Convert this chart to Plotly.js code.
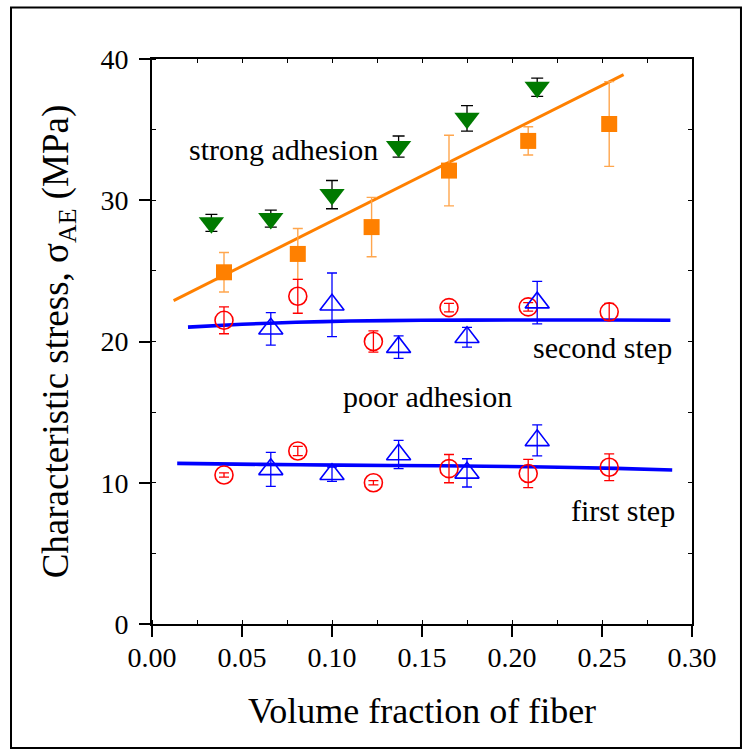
<!DOCTYPE html>
<html>
<head>
<meta charset="utf-8">
<script src="https://cdn.plot.ly/plotly-3.0.1.min.js"></script>
<style>
  body { margin: 0; }
  #chart .main-svg text, #chart .main-svg tspan { font-family: 'Liberation Serif' !important; }
</style>
</head>
<body>
<div id="chart" style="width:750px;height:755px"></div>
<script>
// Strong adhesion: filled green triangles and filled orange squares
const strongTriX = [0.033, 0.066, 0.100, 0.137, 0.175, 0.214];
const strongTriY = [28.4, 28.7, 30.4, 33.8, 35.8, 38.0];
const strongTriErr = [0.6, 0.6, 1.0, 0.75, 0.9, 0.65];

const strongSqX = [0.040, 0.081, 0.122, 0.165, 0.209, 0.254];
const strongSqY = [24.9, 26.2, 28.1, 32.1, 34.2, 35.4];
const strongSqErr = [1.4, 1.8, 2.1, 2.5, 1.0, 3.0];

// Linear trend for the strong adhesion squares
const strongFitX = [0.012, 0.262];
const strongFitY = [22.9, 38.9];

// Poor adhesion, second step
const secondCircX = [0.040, 0.081, 0.123, 0.165, 0.209, 0.254];
const secondCircY = [21.5, 23.2, 20.0, 22.4, 22.45, 22.1];
const secondCircErr = [0.95, 1.2, 0.75, 0.3, 0.3, 0.6];

const secondTriX = [0.066, 0.100, 0.137, 0.175, 0.214];
const secondTriY = [20.9, 22.6, 19.6, 20.3, 22.75];
const secondTriErr = [1.15, 2.25, 0.8, 0.7, 1.5];

const secondFitX = [0.020, 0.050, 0.080, 0.110, 0.150, 0.200, 0.250, 0.288];
const secondFitY = [21.02, 21.22, 21.36, 21.45, 21.50, 21.52, 21.52, 21.50];

// Poor adhesion, first step
const firstCircX = [0.040, 0.081, 0.123, 0.165, 0.209, 0.254];
const firstCircY = [10.55, 12.25, 10.0, 11.0, 10.65, 11.1];
const firstCircErr = [0.15, 0.33, 0.15, 1.0, 1.0, 0.95];

const firstTriX = [0.066, 0.100, 0.137, 0.175, 0.214];
const firstTriY = [10.95, 10.6, 12.0, 10.7, 13.0];
const firstTriErr = [1.2, 0.5, 1.0, 1.0, 1.1];

const firstFitX = [0.014, 0.060, 0.104, 0.160, 0.210, 0.258, 0.289];
const firstFitY = [11.37, 11.30, 11.25, 11.20, 11.13, 11.02, 10.90];

// Axis ticks
const xTickVals = [0, 0.05, 0.10, 0.15, 0.20, 0.25, 0.30];
const xTickText = ['0.00', '0.05', '0.10', '0.15', '0.20', '0.25', '0.30'];
const yTickVals = [0, 10, 20, 30, 40];
const yTickText = ['0', '10', '20', '30', '40'];

const SERIF = 'Liberation Serif';
const ORANGE = '#ff8000';
const BLUE = '#0000ff';
const RED = '#ff0000';
const GREEN = '#007a00';

function fitLine(x, y, color, width) {
  return {
    x: x, y: y, type: 'scatter', mode: 'lines',
    line: { color: color, width: width, shape: 'spline', smoothing: 0.6 },
    hoverinfo: 'skip', showlegend: false
  };
}

function points(x, y, err, symbol, size, fill, edge, edgeW, errColor, errW, capW) {
  return {
    x: x, y: y, type: 'scatter', mode: 'markers',
    marker: { symbol: symbol, size: size, color: fill, line: { color: edge, width: edgeW } },
    error_y: { type: 'data', array: err, visible: true, color: errColor, thickness: errW, width: capW },
    showlegend: false
  };
}

const traces = [
  fitLine(strongFitX, strongFitY, ORANGE, 3),
  fitLine(secondFitX, secondFitY, BLUE, 3.6),
  fitLine(firstFitX, firstFitY, BLUE, 3.6),
  points(strongSqX, strongSqY, strongSqErr, 'square', 16, ORANGE, ORANGE, 0, '#ffa64d', 1.4, 5),
  points(strongTriX, strongTriY, strongTriErr, 'triangle-down', 22, GREEN, GREEN, 0, '#000000', 1.3, 6),
  points(secondCircX, secondCircY, secondCircErr, 'circle-open', 18, RED, RED, 1.6, RED, 1.3, 5),
  points(secondTriX, secondTriY, secondTriErr, 'triangle-up-open', 21, BLUE, BLUE, 1.6, BLUE, 1.3, 5),
  points(firstCircX, firstCircY, firstCircErr, 'circle-open', 18, RED, RED, 1.6, RED, 1.3, 5),
  points(firstTriX, firstTriY, firstTriErr, 'triangle-up-open', 21, BLUE, BLUE, 1.6, BLUE, 1.3, 5),
  // empty trace that carries the top/right frame axes
  { x: [], y: [], xaxis: 'x2', yaxis: 'y2', type: 'scatter', mode: 'markers', showlegend: false, hoverinfo: 'skip' }
];

function label(text, x, y) {
  return {
    text: text, x: x, y: y, xref: 'x', yref: 'y',
    xanchor: 'center', yanchor: 'middle', showarrow: false,
    font: { family: SERIF, size: 30, color: '#000000' }
  };
}

const layout = {
  width: 750, height: 755,
  margin: { l: 152, r: 58, t: 59, b: 131 },
  paper_bgcolor: '#ffffff', plot_bgcolor: '#ffffff',
  showlegend: false,
  xaxis: {
    range: [0, 0.30], showgrid: false, zeroline: false,
    showline: true, linecolor: '#000000', linewidth: 2, mirror: true,
    ticks: 'outside', ticklen: 11, tickwidth: 2, tickcolor: '#000000',
    tickvals: xTickVals, ticktext: xTickText, ticklabelstandoff: -4,
    tickfont: { family: SERIF, size: 28, color: '#000000' },
    minor: { ticks: 'inside', dtick: 0.025, tick0: 0, ticklen: 4, tickwidth: 1, tickcolor: '#000000' },
    title: { text: 'Volume fraction of fiber', font: { family: SERIF, size: 36, color: '#000000' }, standoff: 26 }
  },
  yaxis: {
    range: [0, 40], showgrid: false, zeroline: false,
    showline: true, linecolor: '#000000', linewidth: 2, mirror: true,
    ticks: 'outside', ticklen: 11, tickwidth: 2, tickcolor: '#000000',
    tickvals: yTickVals, ticktext: yTickText, ticklabelstandoff: 5,
    tickfont: { family: SERIF, size: 28, color: '#000000' },
    minor: { ticks: 'inside', dtick: 5, tick0: 0, ticklen: 4, tickwidth: 1, tickcolor: '#000000' },
    title: { text: 'Characteristic stress, σ<sub>AE</sub> (MPa)', font: { family: SERIF, size: 37, color: '#000000' }, standoff: 20 }
  },
  xaxis2: {
    overlaying: 'x', side: 'top', range: [0, 0.30], showgrid: false, zeroline: false,
    showline: false, showticklabels: false,
    ticks: 'inside', dtick: 0.025, tick0: 0, ticklen: 4, tickwidth: 1, tickcolor: '#000000'
  },
  yaxis2: {
    overlaying: 'y', side: 'right', range: [0, 40], showgrid: false, zeroline: false,
    showline: false, showticklabels: false,
    ticks: 'inside', dtick: 5, tick0: 0, ticklen: 4, tickwidth: 1, tickcolor: '#000000'
  },
  annotations: [
    label('strong adhesion', 0.0733, 33.6),
    label('second step', 0.2504, 19.55),
    label('poor adhesion', 0.1533, 16.1),
    label('first step', 0.2617, 8.07)
  ],
  shapes: [
    // outer frame around the whole figure
    { type: 'rect', xref: 'paper', yref: 'paper',
      x0: -0.2611, x1: 1.0907, y0: -0.2195, y1: 1.0912,
      line: { color: '#000000', width: 2 }, fillcolor: 'rgba(0,0,0,0)', layer: 'above' }
  ]
};

Plotly.newPlot('chart', traces, layout, { displayModeBar: false });
</script>
</body>
</html>
